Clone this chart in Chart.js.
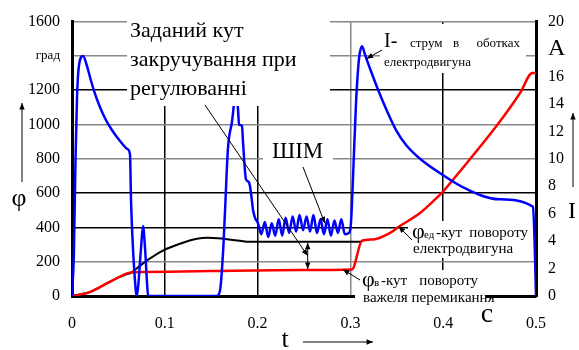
<!DOCTYPE html>
<html>
<head>
<meta charset="utf-8">
<script src="https://cdn.jsdelivr.net/npm/chart.js@4"></script>
<style>
  body { margin: 0; background: #fff; }
  #wrap { width: 579px; height: 350px; }
</style>
</head>
<body>
<div id="wrap"><canvas id="graf" width="579" height="350"></canvas></div>
<script>
// струм I (права вісь, А)
var tStrum = [0, 0.002, 0.0038, 0.0054, 0.0075, 0.0119, 0.016, 0.020, 0.025, 0.030, 0.036, 0.043, 0.0517, 0.060, 0.0625,
  0.0636, 0.0657, 0.068, 0.0695, 0.071, 0.0744, 0.0765, 0.0787, 0.081, 0.082,
  0.156, 0.1595, 0.1627, 0.1649, 0.168, 0.1724, 0.1767, 0.1789, 0.180, 0.1832, 0.1843, 0.1875, 0.1907, 0.194, 0.195, 0.1972, 0.2004,
  0.2040, 0.2078, 0.2115, 0.2152, 0.2190, 0.2228, 0.2265, 0.2302, 0.2340, 0.2378, 0.2415, 0.2452, 0.2490,
  0.2528, 0.2565, 0.2602, 0.2640, 0.2678, 0.2715, 0.2752, 0.2790, 0.2828, 0.2865, 0.2902, 0.2940,
  0.2985, 0.3006, 0.3028, 0.306, 0.3093, 0.3125, 0.3157, 0.321, 0.33, 0.34, 0.35, 0.36, 0.375, 0.4, 0.425, 0.46, 0.4968, 0.4985, 0.5];
var iStrum = [0, 3, 10, 14.5, 16.8, 17.5, 16.8, 15.8, 14.7, 13.8, 12.9, 12.1, 11.3, 10.7, 10.3,
  7, 3.5, 1, 0, 0.5, 3.5, 5.1, 3.5, 0.8, 0,
  0, 0.4, 3.1, 6.2, 10.7, 12.7, 14.8, 13.6, 12.5, 12.4, 11.2, 8.5, 8.3, 6.9, 6.3, 5.7, 5.3,
  4.5, 5.4, 4.3, 5.3, 4.4, 5.6, 4.4, 5.7, 4.6, 5.8, 4.7, 5.9, 4.8,
  5.8, 4.7, 5.9, 4.6, 5.6, 4.5, 5.6, 4.4, 5.5, 4.6, 5.6, 4.5,
  4.6, 5.3, 8.6, 14, 17.3, 18.2, 17.6, 16.6, 15.0, 13.4, 12.0, 11.0, 10.0, 8.8, 7.8, 7.05, 6.5, 3.9, 0];

// φед - кут повороту електродвигуна (чорна)
var tEd = [0, 0.0194, 0.0302, 0.0485, 0.0593, 0.0625, 0.0711, 0.0808, 0.098, 0.1164, 0.1347, 0.1455, 0.1627, 0.181, 0.1918, 0.25, 0.3125];
var phiEd = [0, 23, 52, 104, 128, 132, 167, 207, 265, 305, 334, 340, 334, 322, 316, 316, 316];

// φв - кут повороту важеля перемикання (червона)
var tVaz = [0, 0.0194, 0.0302, 0.0485, 0.0593, 0.0657, 0.08, 0.15, 0.25, 0.3017, 0.3125, 0.3243, 0.3427, 0.3534, 0.375, 0.389, 0.40, 0.415, 0.458, 0.483, 0.496, 0.5];
var phiVaz = [0, 23, 52, 104, 132, 138, 140, 146, 152, 155, 322, 330, 368, 408, 484, 552, 610, 707, 995, 1185, 1300, 1300];

var tTicks = [0, 0.1, 0.2, 0.3, 0.4, 0.5];

function pary(xs, ys) {
  return xs.map(function(x, i) { return {x: x, y: ys[i]}; });
}

var SERIF = '"Liberation Serif", "Times New Roman", serif';
Chart.defaults.font.family = SERIF;
Chart.defaults.color = '#000';

// кольори сітки (частина ліній сіра, частина чорна)
var sitkaY = ['#000', '#888', '#000', '#000', '#888', '#888', '#000', '#888', '#888'];
var sitkaX = ['#000', '#000', '#000', '#888', '#000', '#000'];

function tekst(c, s, x, y, size, align) {
  c.font = size + 'px ' + SERIF;
  c.textAlign = align || 'left';
  c.textBaseline = 'alphabetic';
  c.fillStyle = '#000';
  c.fillText(s, x, y);
}

function strilka(c, x1, y1, x2, y2, obydvi) {
  c.strokeStyle = '#000';
  c.fillStyle = '#000';
  c.lineWidth = 1;
  c.beginPath(); c.moveTo(x1, y1); c.lineTo(x2, y2); c.stroke();
  var golova = function(ax, ay, bx, by) {
    var a = Math.atan2(by - ay, bx - ax), l = 7, w = 0.4;
    c.beginPath();
    c.moveTo(bx, by);
    c.lineTo(bx - l * Math.cos(a - w), by - l * Math.sin(a - w));
    c.lineTo(bx - l * Math.cos(a + w), by - l * Math.sin(a + w));
    c.closePath(); c.fill();
  };
  golova(x1, y1, x2, y2);
  if (obydvi) golova(x2, y2, x1, y1);
}

var pidpysy = {
  id: 'pidpysy',
  beforeDatasetsDraw: function(chart) {
    var c = chart.ctx;
    c.save();
    c.fillStyle = '#fff';
    c.fillRect(263, 137, 70, 40);   // ШІМ
    c.fillRect(380, 24, 146, 49);   // I - струм
    c.fillRect(408, 221, 126, 37);  // φед
    c.fillRect(355, 270, 131, 37);  // φв
    c.restore();
  },
  afterDatasetsDraw: function(chart) {
    var c = chart.ctx, sx = chart.scales.x, sy = chart.scales.y, si = chart.scales.y1;
    c.save();
    c.fillStyle = '#fff';
    c.fillRect(127, 14, 203, 92);   // Заданий кут ...
    tekst(c, 'Заданий кут', 130, 37, 22);
    tekst(c, 'закручування при', 130, 66, 22);
    tekst(c, 'регулюванні', 130, 95, 22);
    tekst(c, 'ШІМ', 272, 158, 23);

    tekst(c, 'I-', 384, 47, 20);
    tekst(c, 'струм', 410, 47, 13);
    tekst(c, 'в', 453, 47, 13);
    tekst(c, 'оботках', 520, 47, 13, 'right');
    tekst(c, 'електродвигуна', 384, 66, 13);

    tekst(c, 'φ', 412, 238, 22);
    tekst(c, 'ед', 424, 238, 11);
    tekst(c, '-кут', 436, 237, 15);
    tekst(c, 'повороту', 528, 237, 15, 'right');
    tekst(c, 'електродвигуна', 413, 253, 15);

    tekst(c, 'φ', 362, 286, 22);
    tekst(c, 'в', 374, 286, 11);
    tekst(c, '-кут', 381, 285, 15);
    tekst(c, 'повороту', 478, 285, 15, 'right');
    tekst(c, 'важеля перемикання', 363, 302, 15);

    // підписи осей
    tekst(c, 'φ', 19, 206, 26, 'center');
    strilka(c, 22, 182, 22, 103);
    tekst(c, 'I', 572, 218, 24, 'center');
    strilka(c, 573, 187, 573, 113);
    tekst(c, 't', 285, 347, 26, 'center');
    strilka(c, 303, 342, 373, 342);
    tekst(c, 'c', 487, 322, 28, 'center');

    // стрілки до кривих
    var xd = sx.getPixelForValue(0.254);
    strilka(c, 205, 105, xd, (sy.getPixelForValue(316) + sy.getPixelForValue(152)) / 2);
    strilka(c, xd, sy.getPixelForValue(316) + 1, xd, sy.getPixelForValue(152) - 1, true);
    strilka(c, 303, 167, sx.getPixelForValue(0.2725), si.getPixelForValue(5.3));
    strilka(c, 382, 50, sx.getPixelForValue(0.3175), si.getPixelForValue(17.3));
    strilka(c, 412, 240, sx.getPixelForValue(0.352), sy.getPixelForValue(405));
    strilka(c, 360, 280, sx.getPixelForValue(0.292), sy.getPixelForValue(155));
    c.restore();
  }
};

new Chart(document.getElementById('graf'), {
  type: 'line',
  data: {
    datasets: [
      { label: 'I', data: pary(tStrum, iStrum), yAxisID: 'y1', borderColor: '#0000ff', borderWidth: 2.5,
        pointRadius: 0, cubicInterpolationMode: 'monotone' },
      { label: 'φв', data: pary(tVaz, phiVaz), yAxisID: 'y', borderColor: '#ff0000', borderWidth: 2.5,
        pointRadius: 0, cubicInterpolationMode: 'monotone' },
      { label: 'φед', data: pary(tEd, phiEd), yAxisID: 'y', borderColor: '#000', borderWidth: 2,
        pointRadius: 0, cubicInterpolationMode: 'monotone' }
    ]
  },
  options: {
    responsive: false,
    animation: false,
    layout: { padding: { top: 18, left: 0, right: 0, bottom: 0 } },
    plugins: { legend: { display: false }, tooltip: { enabled: false } },
    scales: {
      x: {
        type: 'linear', min: 0, max: 0.5,
        afterBuildTicks: function(s) { s.ticks = tTicks.map(function(v) { return {value: v}; }); },
        ticks: { padding: 18, autoSkip: false, maxRotation: 0, font: { size: 16 },
          callback: function(v) { return v === 0 ? '0' : v.toFixed(1); } },
        grid: { drawTicks: false, lineWidth: 1.5, color: function(ctx) { return sitkaX[ctx.index]; } },
        border: { display: true, width: 3, color: '#000' },
        afterFit: function(s) { s.height = 54; }
      },
      y: {
        position: 'left', min: 0, max: 1600,
        ticks: { stepSize: 200, padding: 12, autoSkip: false,
          font: function(ctx) { return { size: ctx.tick && ctx.tick.value === 1400 ? 13 : 16 }; },
          callback: function(v) { return v === 1400 ? 'град' : v; } },
        grid: { drawTicks: false, lineWidth: 1.5, color: function(ctx) { return sitkaY[ctx.index]; } },
        border: { display: true, width: 3, color: '#000' },
        afterFit: function(s) { s.width = 72; }
      },
      y1: {
        position: 'right', min: 0, max: 20,
        ticks: { stepSize: 2, padding: 12, autoSkip: false,
          font: function(ctx) { return { size: ctx.tick && ctx.tick.value === 18 ? 24 : 16 }; },
          callback: function(v) { return v === 18 ? 'A' : v; } },
        grid: { display: false, drawTicks: false },
        border: { display: true, width: 3, color: '#000' },
        afterFit: function(s) { s.width = 43; }
      }
    }
  },
  plugins: [pidpysy]
});
</script>
</body>
</html>
